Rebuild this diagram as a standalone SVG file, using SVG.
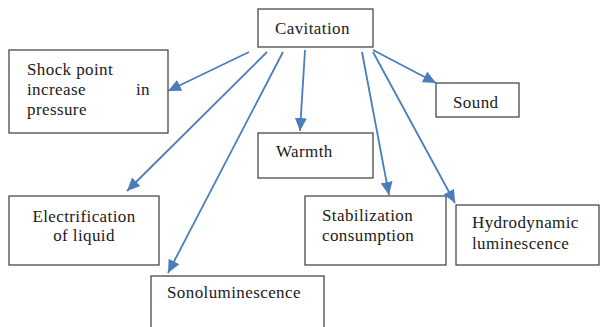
<svg xmlns="http://www.w3.org/2000/svg" width="600" height="327" viewBox="0 0 600 327">
<style>
.box{fill:#fff;stroke:#3a3a3a;stroke-width:1.2}
.t{font-family:'Liberation Serif','Times New Roman','DejaVu Serif',serif;font-size:17px;fill:#1a1a1a;letter-spacing:0.4px}
.c{stroke:#4a7ebb;stroke-width:1.8;fill:none;marker-end:url(#ah)}
</style>
<defs>
<marker id="ah" markerUnits="userSpaceOnUse" markerWidth="14" markerHeight="12" viewBox="0 0 14 12" refX="13" refY="6" orient="auto">
<path d="M0,0 L13,6 L0,12 Z" fill="#4a7ebb"/>
</marker>
</defs>
<rect width="600" height="327" fill="#fff"/>
<g id="cavitation"><rect class="box" x="258" y="9" width="115" height="38"/><text class="t" x="275" y="34" font-family="Liberation Serif, serif">Cavitation</text></g>
<g id="shock"><rect class="box" x="9" y="50" width="159" height="83"/>
<text class="t" x="27" y="75">Shock point</text>
<text class="t" x="27" y="95">increase</text>
<text class="t" x="150" y="95" text-anchor="end">in</text>
<text class="t" x="27" y="115">pressure</text></g>
<g id="sound"><rect class="box" x="436" y="83" width="83" height="34"/><text class="t" x="453" y="108">Sound</text></g>
<g id="warmth"><rect class="box" x="258" y="133" width="115" height="45"/><text class="t" x="276" y="157">Warmth</text></g>
<g id="electrification"><rect class="box" x="9" y="196" width="150" height="69"/>
<text class="t" x="84" y="222" text-anchor="middle">Electrification</text>
<text class="t" x="84" y="241" text-anchor="middle">of liquid</text></g>
<g id="stabilization"><rect class="box" x="305" y="196" width="141" height="69"/>
<text class="t" x="322" y="221">Stabilization</text>
<text class="t" x="322" y="241">consumption</text></g>
<g id="hydrodynamic"><rect class="box" x="456" y="205" width="143" height="60"/>
<text class="t" x="472" y="228">Hydrodynamic</text>
<text class="t" x="472" y="249">luminescence</text></g>
<g id="sonoluminescence"><rect class="box" x="151" y="276" width="173" height="60"/>
<text class="t" x="167" y="298">Sonoluminescence</text></g>
<g id="connectors">
<line class="c" x1="249" y1="52" x2="168" y2="91"/>
<line class="c" x1="267" y1="52" x2="127" y2="191"/>
<line class="c" x1="283" y1="52" x2="168" y2="273"/>
<line class="c" x1="305" y1="50" x2="300" y2="131"/>
<line class="c" x1="362" y1="52" x2="389" y2="195"/>
<line class="c" x1="373" y1="52" x2="455" y2="203"/>
<line class="c" x1="373" y1="50" x2="436" y2="83"/>
</g>
</svg>
